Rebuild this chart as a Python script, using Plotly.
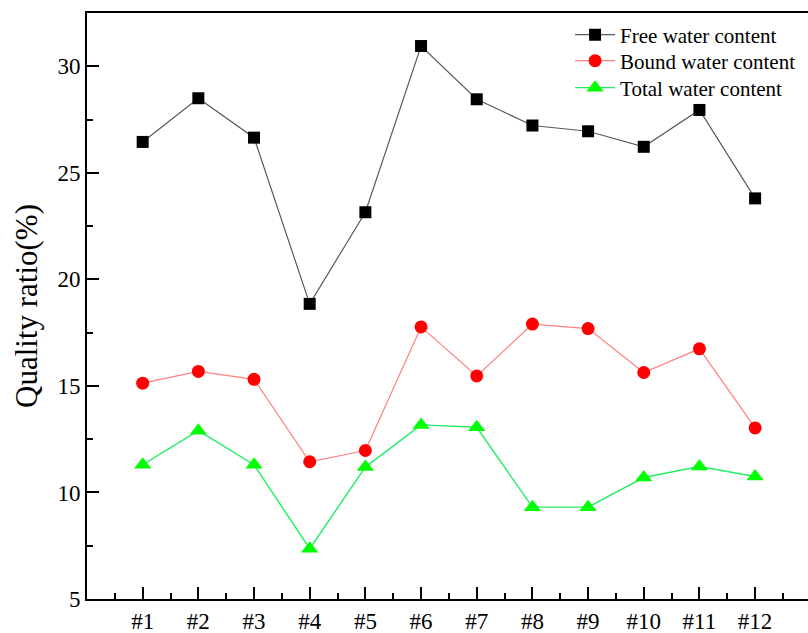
import plotly.graph_objects as go

categories = ["#1", "#2", "#3", "#4", "#5", "#6", "#7", "#8", "#9", "#10", "#11", "#12"]
free_water = [26.45, 28.5, 26.65, 18.85, 23.15, 30.95, 28.45, 27.22, 26.95, 26.22, 27.95, 23.8]
bound_water = [15.13, 15.68, 15.31, 11.44, 11.97, 17.77, 15.47, 17.9, 17.69, 15.63, 16.74, 13.03]
total_water = [11.3, 12.9, 11.3, 7.36, 11.19, 13.17, 13.06, 9.31, 9.31, 10.7, 11.22, 10.75]
series_names = ["Free water content", "Bound water content", "Total water content"]
y_ticks = [5, 10, 15, 20, 25, 30]

x_pos = list(range(1, len(categories) + 1))
FONT = "Liberation Serif, Times New Roman, serif"

fig = go.Figure()
fig.add_trace(go.Scatter(
    x=x_pos, y=free_water, name=series_names[0], mode="lines+markers", legend="legend",
    line=dict(color="#5a5a5a", width=1.2),
    marker=dict(symbol="square", size=12, color="black"),
))
fig.add_trace(go.Scatter(
    x=x_pos, y=bound_water, name=series_names[1], mode="lines+markers", legend="legend2",
    line=dict(color="#ff8080", width=1.2),
    marker=dict(symbol="circle", size=13, color="#ff0000"),
))
fig.add_trace(go.Scatter(
    x=x_pos, y=total_water, name=series_names[2], mode="lines+markers", legend="legend3",
    line=dict(color="#22ee66", width=1.4),
    marker=dict(symbol="triangle-up", size=15, color="#00ff00"),
))

def leg(ypos):
    return dict(
        x=0.67, y=ypos, xanchor="left", yanchor="middle",
        bgcolor="rgba(0,0,0,0)", font=dict(family=FONT, size=21, color="black"),
        itemwidth=40,
    )

fig.update_layout(
    width=808, height=633,
    margin=dict(l=87, r=0, t=13, b=34, autoexpand=False),
    paper_bgcolor="white", plot_bgcolor="white",
    font=dict(family=FONT, color="black"),
    showlegend=True,
    legend=leg(0.9625),
    legend2=leg(0.918),
    legend3=leg(0.872),
    xaxis=dict(
        range=[0, 12.95], tickvals=x_pos, ticktext=categories, automargin=False,
        showgrid=False, zeroline=False,
        showline=True, linecolor="black", linewidth=2, mirror=True,
        ticks="inside", ticklen=12, tickwidth=2, tickcolor="black",
        tickfont=dict(family=FONT, size=23, color="black"),
        minor=dict(tickvals=[i + 0.5 for i in range(0, 13)], ticks="inside", ticklen=6,
                   tickwidth=2, tickcolor="black", showgrid=False),
    ),
    yaxis=dict(
        range=[5, 32.5], tickvals=y_ticks, automargin=False,
        showgrid=False, zeroline=False,
        showline=True, linecolor="black", linewidth=2, mirror=False,
        ticks="inside", ticklen=12, tickwidth=2, tickcolor="black",
        tickfont=dict(family=FONT, size=23, color="black"),
        title=dict(text="Quality ratio(%)", font=dict(family=FONT, size=31, color="black"), standoff=11),
        minor=dict(dtick=2.5, ticks="inside", ticklen=6, tickwidth=2, tickcolor="black", showgrid=False),
    ),
)

fig.write_html(
    "out.html",
    config={"displayModeBar": False},
    post_script="document.body.style.margin='0px';document.body.style.overflow='hidden';",
)
